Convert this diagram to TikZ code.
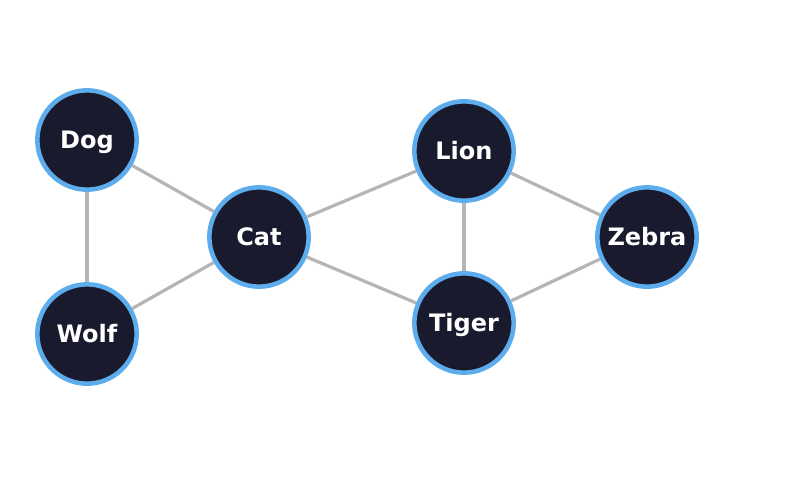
\documentclass[tikz,border=0pt]{standalone}
\usepackage{fontspec}
\setmainfont{DejaVu Sans}
\definecolor{nodefill}{HTML}{1A1A2E}
\definecolor{nodeline}{HTML}{5DADEC}
\definecolor{edgegray}{HTML}{B5B5B5}
\begin{document}
\begin{tikzpicture}[x=0.75pt, y=-0.75pt,
    animal/.style={circle, fill=nodefill, draw=nodeline, line width=3.4pt, minimum size=74.5pt, inner sep=0pt, text=white, text height=13.1pt, text depth=0pt, font=\fontsize{18}{20}\selectfont\bfseries},
    link/.style={draw=edgegray, line width=2.4pt}]
        \useasboundingbox (0,0) rectangle (789,476);
        \node[animal] (dog) at (87,140) {Dog};
        \node[animal] (wolf) at (87,334) {Wolf};
        \node[animal] (cat) at (259,237) {Cat};
        \node[animal] (lion) at (464,151) {Lion};
        \node[animal] (tiger) at (464,323) {Tiger};
        \node[animal] (zebra) at (647,237) {Zebra};
        \draw[link] (dog) -- (wolf);
        \draw[link] (dog) -- (cat);
        \draw[link] (wolf) -- (cat);
        \draw[link] (cat) -- (lion);
        \draw[link] (cat) -- (tiger);
        \draw[link] (lion) -- (tiger);
        \draw[link] (lion) -- (zebra);
        \draw[link] (tiger) -- (zebra);
    \end{tikzpicture}
\end{document}
